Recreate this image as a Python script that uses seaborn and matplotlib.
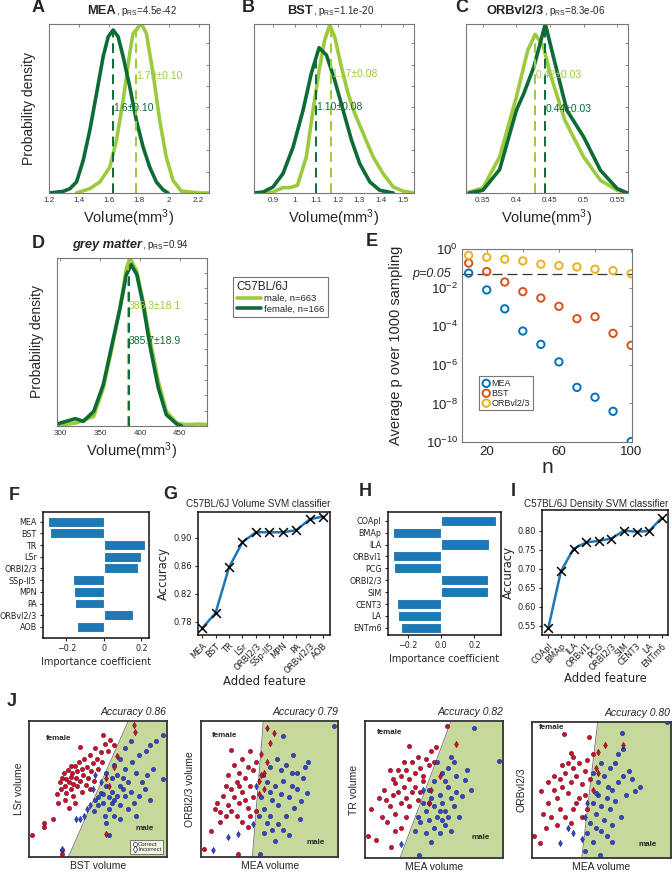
import numpy as np
import matplotlib
matplotlib.use("Agg")
import matplotlib.pyplot as plt
from matplotlib.lines import Line2D
import seaborn as sns

# ---------------- data ----------------
# A  MEA
A_male_x = [1.384, 1.473, 1.54, 1.607, 1.651, 1.696, 1.74, 1.762, 1.784, 1.807, 1.818, 1.851, 1.896, 1.94, 1.984, 2.029, 2.084, 2.207, 2.267]
A_male_y = [0, 13, 33, 78, 158, 278, 418, 478, 488, 503, 506, 478, 358, 218, 108, 38, 6, 0, 0]
A_female_x = [1.2, 1.296, 1.34, 1.384, 1.429, 1.473, 1.518, 1.562, 1.596, 1.629, 1.662, 1.696, 1.74, 1.784, 1.829, 1.873, 1.918, 1.962, 1.996]
A_female_y = [0, 5, 13, 33, 98, 188, 298, 408, 468, 488, 468, 408, 318, 218, 138, 78, 33, 10, 0]
A_means = [1.78, 1.63]
A_texts = ["1.79±0.10", "1.6±0.10"]
A_text_h = [350, 255]
A_xticks = [1.2, 1.4, 1.6, 1.8, 2.0, 2.2]
A_xticklabels = ["1.2", "1.4", "1.6", "1.8", "2", "2.2"]

# B  BST
B_male_x = [0.869, 0.9, 0.946, 0.977, 1.013, 1.054, 1.085, 1.116, 1.139, 1.162, 1.185, 1.216, 1.247, 1.278, 1.317, 1.363, 1.409, 1.456, 1.5, 1.553]
B_male_y = [0, 3, 16, 16, 23, 108, 248, 378, 458, 503, 468, 378, 298, 238, 178, 108, 58, 18, 6, 0]
B_female_x = [0.812, 0.854, 0.9, 0.946, 0.993, 1.039, 1.077, 1.113, 1.147, 1.185, 1.224, 1.263, 1.301, 1.348, 1.394, 1.456]
B_female_y = [0, 3, 18, 58, 138, 248, 358, 435, 413, 338, 248, 158, 88, 33, 8, 0]
B_means = [1.17, 1.10]
B_texts = ["1.17±0.08", "1.10±0.08"]
B_text_h = [356, 256]
B_xticks = [0.9, 1.0, 1.1, 1.2, 1.3, 1.4, 1.5]
B_xticklabels = ["0.9", "1", "1.1", "1.2", "1.3", "1.4", "1.5"]

# C  ORBvl2/3
C_male_x = [0.325, 0.35, 0.375, 0.4, 0.417, 0.428, 0.44, 0.45, 0.472, 0.5, 0.525, 0.55, 0.566]
C_male_y = [0, 15, 108, 288, 428, 475, 440, 358, 218, 108, 38, 8, 0]
C_female_x = [0.33, 0.35, 0.375, 0.4, 0.411, 0.426, 0.443, 0.455, 0.475, 0.5, 0.525, 0.55, 0.565]
C_female_y = [0, 8, 70, 248, 298, 378, 506, 408, 248, 168, 68, 13, 0]
C_means = [0.428, 0.443]
C_texts = ["0.42±0.03", "0.44±0.03"]
C_text_h = [353, 253]
C_xticks = [0.35, 0.4, 0.45, 0.5, 0.55]
C_xticklabels = ["0.35", "0.4", "0.45", "0.5", "0.55"]

# D  grey matter
D_male_x = [296, 320, 342, 354, 364, 375, 383, 387.5, 396, 404, 413, 423, 433, 446, 458, 475, 484]
D_male_y = [2, 9, 29, 114, 224, 354, 474, 504, 464, 374, 254, 134, 44, 9, 4, 6, 4]
D_female_x = [296, 319, 329, 342, 354, 364, 375, 383, 389, 396, 404, 413, 423, 433, 446, 452]
D_female_y = [6, 22, 14, 44, 124, 234, 354, 454, 484, 454, 364, 234, 114, 34, 6, 0]
D_means = [385.3, 385.7]
D_texts = ["385.3±18.1", "385.7±18.9"]
D_text_h = [359, 256]
D_xticks = [300, 350, 400, 450]
D_xticklabels = ["300", "350", "400", "450"]

legend_D_labels = ["male, n=663", "female, n=166"]

# E  average p vs n (log10 p)
E_n = [10, 20, 30, 40, 50, 60, 70, 80, 90, 100]
E_logp_MEA = [-1.25, -2.12, -3.1, -4.25, -4.94, -5.85, -7.17, -7.68, -8.41, -9.98]
E_logp_BST = [-0.73, -1.17, -1.71, -2.21, -2.54, -2.97, -3.61, -3.51, -4.37, -4.99]
E_logp_ORB = [-0.33, -0.43, -0.53, -0.62, -0.79, -0.86, -0.93, -1.05, -1.12, -1.28]
E_series = ["MEA", "BST", "ORBvl2/3"]

# F  volume importance
F_feat = ["MEA", "BST", "TR", "LSr", "ORBl2/3", "SSp-ll5", "MPN", "PA", "ORBvl2/3", "AOB"]
F_coef = [-0.30, -0.288, 0.219, 0.20, 0.18, -0.165, -0.158, -0.157, 0.153, -0.142]
# G  volume accuracy
G_acc = [0.7706, 0.7924, 0.8576, 0.8939, 0.908, 0.908, 0.908, 0.911, 0.9267, 0.9305]
# H  density importance
H_feat = ["COApl", "BMAp", "ILA", "ORBvl1", "PCG", "ORBl2/3", "SIM", "CENT3", "LA", "ENTm6"]
H_coef = [0.328, -0.29, 0.288, -0.286, -0.284, 0.284, 0.282, -0.266, -0.26, -0.242]
# I  density accuracy
I_acc = [0.544, 0.693, 0.752, 0.769, 0.773, 0.779, 0.800, 0.797, 0.799, 0.833]

# J  scatter panels (normalised 0-100 units)
J1_red_x = [2, 11, 11, 17, 24, 24, 54, 76, 77, 37, 30, 56, 22, 23, 24, 25, 26, 27, 27, 28, 29, 30, 30, 31, 32, 32, 33, 34, 35, 35, 36, 37, 38, 38, 39, 40, 41, 42, 43, 44, 45, 46, 47, 48, 49, 50, 52, 53, 55, 57, 59, 62, 20, 21, 26, 33, 29, 44, 64, 56, 62, 58]
J1_red_y = [16, 25, 22, 28, 2, 5, 90, 97, 92, 81, 67, 17, 55, 50, 58, 62, 52, 57, 47, 64, 55, 59, 50, 62, 54, 45, 67, 58, 52, 63, 70, 56, 48, 65, 60, 72, 53, 66, 58, 75, 63, 69, 56, 80, 72, 65, 77, 70, 83, 78, 86, 82, 46, 40, 42, 40, 36, 50, 74, 58, 66, 52]
J1_blue_x = [97, 97, 92, 24, 34, 37, 56, 58, 88, 85, 80, 75, 70, 66, 78, 82, 86, 90, 72, 68, 64, 60, 56, 52, 48, 50, 54, 58, 62, 66, 70, 74, 76, 80, 84, 88, 60, 64, 68, 52, 46, 44, 47, 55, 62, 66, 72, 78, 48, 56, 70, 74, 62, 40, 42, 58, 54, 50, 60, 66]
J1_blue_y = [90, 57, 85, 6, 28, 28, 25, 16, 82, 78, 75, 70, 65, 72, 62, 55, 60, 65, 55, 50, 45, 48, 52, 47, 42, 38, 40, 35, 42, 38, 45, 48, 40, 45, 50, 42, 58, 60, 58, 55, 50, 38, 34, 30, 30, 28, 35, 30, 60, 62, 80, 85, 68, 30, 35, 44, 46, 44, 40, 52]
J1_boundary = [28.4, 72.0]

J2_red_x = [2, 7, 14, 27, 22, 28, 48, 53, 50, 12, 10, 18, 16, 20, 22, 24, 26, 28, 30, 32, 34, 36, 38, 40, 42, 44, 46, 20, 24, 30, 34, 36, 26, 30, 34, 18, 38, 40, 42, 44, 46, 48, 32, 28, 22, 14, 36]
J2_red_y = [6, 19, 33, 2, 79, 62, 95, 91, 84, 40, 35, 30, 45, 38, 50, 44, 55, 40, 48, 58, 36, 52, 64, 70, 56, 76, 62, 60, 68, 72, 66, 78, 30, 26, 22, 52, 44, 34, 46, 60, 50, 70, 42, 52, 34, 26, 30]
J2_blue_x = [97, 60, 67, 78, 77, 73, 43, 20, 9, 27, 45, 48, 50, 52, 54, 56, 58, 60, 62, 64, 66, 68, 70, 72, 50, 52, 54, 48, 46, 56, 58, 62, 66, 44, 46, 60, 64, 50, 55, 70, 74, 76, 42, 38, 40]
J2_blue_y = [96, 89, 75, 70, 47, 41, 2, 15, 5, 17, 60, 55, 48, 42, 52, 38, 46, 56, 30, 44, 52, 36, 62, 28, 30, 20, 12, 25, 35, 24, 64, 68, 62, 44, 18, 20, 16, 66, 72, 50, 58, 66, 30, 24, 52]
J2_boundary = [37.4, 45.4]

J3_red_x = [2, 8, 4, 19, 32, 51, 59, 66, 15, 18, 20, 22, 24, 26, 28, 30, 32, 34, 36, 38, 40, 42, 44, 46, 48, 12, 16, 22, 26, 30, 34, 28, 24, 20, 36, 40, 14, 10, 18, 32, 38, 26, 22, 42, 30, 50, 46, 48, 54]
J3_red_y = [16, 13, 36, 8, 82, 81, 96, 83, 42, 38, 46, 55, 48, 60, 52, 64, 58, 70, 62, 74, 66, 56, 72, 68, 78, 30, 26, 32, 40, 44, 48, 70, 64, 58, 52, 48, 50, 44, 64, 38, 42, 22, 20, 60, 30, 70, 40, 50, 60]
J3_blue_x = [79, 97, 39, 26, 72, 77, 42, 44, 46, 48, 50, 52, 54, 56, 58, 60, 62, 64, 66, 68, 50, 54, 58, 62, 46, 50, 56, 60, 64, 70, 74, 52, 40, 36, 44, 48, 42, 38, 56, 60, 66, 58, 62, 54, 46]
J3_blue_y = [95, 71, 2, 10, 57, 50, 40, 34, 28, 44, 38, 30, 46, 40, 34, 52, 44, 38, 60, 30, 22, 18, 24, 20, 50, 56, 62, 66, 70, 45, 64, 70, 26, 20, 18, 12, 50, 30, 28, 30, 48, 56, 74, 34, 40]
J3_boundary = [25.3, 62.2]

J4_red_x = [2, 6, 7, 23, 41, 53, 66, 28, 12, 14, 16, 18, 20, 22, 24, 26, 28, 30, 32, 34, 36, 38, 40, 42, 20, 24, 28, 32, 18, 10, 26, 30, 22, 34, 38, 40, 44, 46, 48, 16, 30, 12, 36, 8, 44, 48]
J4_red_y = [16, 11, 49, 91, 89, 83, 83, 77, 40, 30, 50, 44, 58, 52, 62, 48, 56, 66, 60, 70, 54, 64, 72, 58, 36, 30, 26, 40, 24, 22, 70, 74, 68, 44, 46, 36, 50, 66, 62, 60, 36, 56, 30, 32, 76, 78]
J4_blue_x = [97, 65, 78, 74, 49, 38, 20, 44, 46, 48, 50, 52, 54, 56, 58, 60, 62, 64, 66, 68, 50, 54, 58, 48, 52, 56, 60, 70, 72, 46, 44, 42, 40, 36, 30, 26, 62, 66, 55, 50, 58, 46, 44, 40, 38]
J4_blue_y = [100, 92, 52, 49, 2, 5, 11, 40, 32, 46, 38, 28, 44, 36, 50, 42, 56, 30, 60, 46, 20, 16, 24, 56, 60, 66, 70, 64, 58, 22, 12, 26, 18, 14, 18, 22, 76, 80, 52, 70, 12, 48, 62, 40, 30]
J4_boundary = [36.0, 47.5]

J_acc = ["Accuracy 0.86", "Accuracy 0.79", "Accuracy 0.82", "Accuracy 0.80"]
J_xlabels = ["BST volume", "MEA volume", "MEA volume", "MEA volume"]
J_ylabels = ["LSr volume", "ORBl2/3 volume", "TR volume", "ORBvl2/3"]

# ---------------- style ----------------
sns.set_theme(style="white")
plt.rcParams["font.family"] = ["Liberation Sans", "DejaVu Sans"]
plt.rcParams["mathtext.fontset"] = "custom"
plt.rcParams["mathtext.rm"] = "Liberation Sans"
plt.rcParams["mathtext.it"] = "Liberation Sans:italic"
plt.rcParams["mathtext.bf"] = "Liberation Sans:bold"

LIGHT = "#9BCB3C"
DARK = "#0D6B36"
GRAY = "#555555"
BLUE = "#1f77b4"
RED_PT = "#C8102E"
BLUE_PT = "#3344C4"
GREEN_BG = "#C6D99A"
E_COLORS = ["#0072BD", "#D95319", "#EDB120"]

W, H = 672, 875
fig = plt.figure(figsize=(W / 100, H / 100), dpi=100)


def add_ax(l, t, r, b):
    return fig.add_axes([l / W, 1 - b / H, (r - l) / W, (b - t) / H])


def ftext(px, py, s, **kw):
    fig.text(px / W, 1 - py / H, s, **kw)


def letter(px, py, s):
    ftext(px, py, s, fontsize=13, fontweight="bold", ha="center", va="center")


def two_part_title(px, py, bold, rest, italic=False):
    ftext(px, py, bold, fontsize=9.3, fontweight="bold", style="italic" if italic else "normal",
          ha="right", va="baseline")
    ftext(px, py, rest, fontsize=7, ha="left", va="baseline")


def density_panel(ax, mx, my, fx, fy, means, texts, text_h, xlim, xticks, xticklabels, ytop, ystep):
    sns.lineplot(x=mx, y=my, sort=False, estimator=None, color=LIGHT, lw=2.6, ax=ax,
                 solid_joinstyle="round", solid_capstyle="round")
    sns.lineplot(x=fx, y=fy, sort=False, estimator=None, color=DARK, lw=2.6, ax=ax,
                 solid_joinstyle="round", solid_capstyle="round")
    hm = np.interp(means[0], mx, my)
    hf = np.interp(means[1], fx, fy)
    ax.plot([means[0], means[0]], [0, hm], color=LIGHT, lw=1.4, ls=(0, (5, 3)))
    ax.plot([means[1], means[1]], [0, hf], color=DARK, lw=1.4, ls=(0, (5, 3)))
    ax.text(means[0], text_h[0], texts[0], color=LIGHT, fontsize=7.5, ha="left", va="center")
    ax.text(means[1], text_h[1], texts[1], color=DARK, fontsize=7.5, ha="left", va="center")
    ax.set_xlim(*xlim)
    ax.set_ylim(0, ytop)
    ax.set_xticks(xticks)
    ax.set_xticklabels(xticklabels)
    ax.set_yticks(np.arange(0, ytop, ystep))
    ax.set_yticklabels([])
    ax.tick_params(direction="in", top=True, right=True, length=2.5, width=0.5,
                   colors=GRAY, labelcolor="#333333", labelsize=5.8, pad=3)
    for s in ax.spines.values():
        s.set_color("#777777")
        s.set_linewidth(0.8)
    ax.set_xlabel("Volume(mm$^3$)", fontsize=10.5, labelpad=2)
    ax.set_ylabel("")


# ---------- A ----------
axA = add_ax(49, 24, 209, 193)
density_panel(axA, A_male_x, A_male_y, A_female_x, A_female_y, A_means, A_texts, A_text_h,
              (1.2, 2.27), A_xticks, A_xticklabels, 506, 64)
axA.set_ylabel("Probability density", fontsize=10, labelpad=6)
letter(38, 8, "A")
two_part_title(115.5, 14, "MEA", ", p$_{\\mathregular{RS}}$=4.5e-42")

# ---------- B ----------
axB = add_ax(254, 24, 414, 193)
density_panel(axB, B_male_x, B_male_y, B_female_x, B_female_y, B_means, B_texts, B_text_h,
              (0.812, 1.552), B_xticks, B_xticklabels, 506, 64)
letter(248, 8, "B")
two_part_title(313, 14, "BST", ", p$_{\\mathregular{RS}}$=1.1e-20")

# ---------- C ----------
axC = add_ax(466, 24, 628, 193)
density_panel(axC, C_male_x, C_male_y, C_female_x, C_female_y, C_means, C_texts, C_text_h,
              (0.325, 0.566), C_xticks, C_xticklabels, 506, 64)
letter(462, 8, "C")
two_part_title(543.5, 14, "ORBvl2/3", ", p$_{\\mathregular{RS}}$=8.3e-06")

# ---------- D ----------
axD = add_ax(57, 258, 207, 426)
density_panel(axD, D_male_x, D_male_y, D_female_x, D_female_y, D_means, D_texts, D_text_h,
              (296, 484), D_xticks, D_xticklabels, 504, 46)
axD.set_ylabel("Probability density", fontsize=10, labelpad=6)
letter(38, 243, "D")
two_part_title(142.5, 248, "grey matter", ", p$_{\\mathregular{RS}}$=0.94", italic=True)
handles = [Line2D([], [], color=LIGHT, lw=2.6), Line2D([], [], color=DARK, lw=2.6)]
leg = fig.legend(handles, legend_D_labels, title="C57BL/6J", loc="upper left",
                 bbox_to_anchor=(233 / W, 1 - 277 / H), frameon=True, fancybox=False,
                 fontsize=6.8, title_fontsize=8.5, alignment="left", handlelength=2.6,
                 borderpad=0.4, labelspacing=0.15, handletextpad=0.3, borderaxespad=0)
leg.get_frame().set_edgecolor(GRAY)
leg.get_frame().set_linewidth(0.8)

# ---------- E ----------
axE = add_ax(462, 249, 632, 442)
for name, vals, col in zip(E_series, [E_logp_MEA, E_logp_BST, E_logp_ORB], E_COLORS):
    sns.scatterplot(x=E_n, y=10.0 ** np.array(vals), marker="o", s=28, color=col,
                    facecolor="none", edgecolor=col, linewidth=1.4, label=name, ax=axE, zorder=3)
axE.axhline(0.05, color="#333333", lw=0.9, ls=(0, (8, 4)), zorder=1)
axE.set_yscale("log")
axE.set_ylim(1e-10, 1)
axE.set_xlim(6.3, 100.5)
axE.set_yticks([1e0, 1e-2, 1e-4, 1e-6, 1e-8, 1e-10])
axE.set_yticklabels(["10$^{0}$", "10$^{-2}$", "10$^{-4}$", "10$^{-6}$", "10$^{-8}$", "10$^{-10}$"])
axE.yaxis.set_minor_locator(matplotlib.ticker.NullLocator())
axE.set_xticks([20, 40, 60, 80, 100])
axE.set_xticklabels(["20", "", "60", "", "100"])
axE.tick_params(direction="in", top=True, right=True, length=2.5, width=0.5,
                colors=GRAY, labelcolor="#222222", labelsize=9.5, pad=3)
for s in axE.spines.values():
    s.set_color("#777777")
    s.set_linewidth(0.8)
axE.set_xlabel("n", fontsize=15, labelpad=0)
axE.set_ylabel("Average p over 1000 sampling", fontsize=10.5, labelpad=16)
legE = axE.legend(loc="upper left", bbox_to_anchor=(0.1, 0.342), fontsize=6.5, frameon=True,
                  fancybox=False, handletextpad=0.1, borderpad=0.3, labelspacing=0.1,
                  handlelength=1.0, borderaxespad=0)
legE.get_frame().set_edgecolor(GRAY)
legE.get_frame().set_linewidth(0.8)
ftext(451, 274, "p=0.05", fontsize=9, style="italic", ha="right", va="center")
letter(372, 242, "E")


# ---------- F-I ----------
def bar_panel(ax, feats, coefs, xlim, ylim, xticks, xticklabels):
    sns.barplot(x=coefs, y=feats, orient="h", color=BLUE, saturation=1, width=0.85,
                edgecolor="white", linewidth=0.8, ax=ax)
    ax.set_xlim(*xlim)
    ax.set_ylim(*ylim)
    ax.set_xticks(xticks)
    ax.set_xticklabels(xticklabels)
    ax.tick_params(labelsize=5.8, length=2.5, width=0.8, pad=2, colors="#222222")
    for s in ax.spines.values():
        s.set_color("#111111")
        s.set_linewidth(1.1)
    ax.set_xlabel("Importance coefficient", fontsize=7, labelpad=3)
    ax.set_ylabel("")


def acc_panel(ax, feats, acc, xlim, ylim, yticks, yticklabels, title, title_x):
    xs = np.arange(len(feats))
    sns.lineplot(x=xs, y=acc, color=BLUE, lw=1.8, ax=ax)
    sns.scatterplot(x=xs, y=acc, marker="x", s=40, color="black", linewidth=1.1, ax=ax, zorder=3)
    ax.set_xlim(*xlim)
    ax.set_ylim(*ylim)
    ax.set_yticks(yticks)
    ax.set_yticklabels(yticklabels)
    ax.set_xticks(xs)
    ax.set_xticklabels(feats, rotation=45, ha="right", rotation_mode="anchor")
    ax.tick_params(labelsize=6, length=2.5, width=0.8, pad=2, colors="#222222")
    for s in ax.spines.values():
        s.set_color("#111111")
        s.set_linewidth(1.1)
    ax.set_xlabel("Added feature", fontsize=8.4, labelpad=0)
    ax.set_ylabel("Accuracy", fontsize=8.4, labelpad=2)
    ftext(title_x, 504, title, fontsize=7.1, ha="center", va="center")


with sns.axes_style("ticks"):
    axF = add_ax(43, 512, 149, 638)
    axG = add_ax(198, 512, 330, 635)
    axH = add_ax(388, 512, 501, 635)
    axI = add_ax(542, 510, 668, 635)

bar_panel(axF, F_feat, F_coef, (-0.325, 0.24), (9.95, -0.83), [-0.2, 0, 0.2], ["\u22120.2", "0", "0.2"])
bar_panel(axH, H_feat, H_coef, (-0.318, 0.36), (9.6, -0.73), [-0.2, 0, 0.2], ["\u22120.2", "0.0", "0.2"])
acc_panel(axG, F_feat, G_acc, (-0.3, 9.5), (0.761, 0.937), [0.78, 0.82, 0.86, 0.90],
          ["0.78", "0.82", "0.86", "0.90"], "C57BL/6J Volume SVM classifier", 258)
acc_panel(axI, H_feat, I_acc, (-0.5, 9.5), (0.526, 0.854), [0.55, 0.60, 0.65, 0.70, 0.75, 0.80],
          ["0.55", "0.60", "0.65", "0.70", "0.75", "0.80"], "C57BL/6J Density SVM classifier", 596)
letter(14, 496, "F")
letter(170, 494, "G")
letter(365, 492, "H")
letter(513, 492, "I")


# ---------- J ----------
def j_panel(ax, rx, ry, bx, by, bnd, acc, xl, yl, fem_pos, male_pos, show_legend=False):
    rx, ry, bx, by = map(np.asarray, (rx, ry, bx, by))
    ax.set_xlim(0, 100)
    ax.set_ylim(0, 100)
    ax.fill_betweenx([0, 100], bnd, [100, 100], color=GREEN_BG, lw=0, zorder=0)
    ax.plot(bnd, [0, 100], color="#6f6f6f", lw=0.6, zorder=1)
    r_ok = rx < bnd[0] + (bnd[1] - bnd[0]) * ry / 100
    b_ok = bx >= bnd[0] + (bnd[1] - bnd[0]) * by / 100
    sns.scatterplot(x=rx[r_ok], y=ry[r_ok], marker="o", s=10, color=RED_PT, edgecolor="#5a0010",
                    linewidth=0.3, ax=ax, zorder=3)
    sns.scatterplot(x=bx[b_ok], y=by[b_ok], marker="o", s=10, color=BLUE_PT, edgecolor="#101a60",
                    linewidth=0.3, ax=ax, zorder=3)
    sns.scatterplot(x=rx[~r_ok], y=ry[~r_ok], marker="d", s=11, color=RED_PT, edgecolor="#5a0010",
                    linewidth=0.3, ax=ax, zorder=3)
    sns.scatterplot(x=bx[~b_ok], y=by[~b_ok], marker="d", s=11, color=BLUE_PT, edgecolor="#101a60",
                    linewidth=0.3, ax=ax, zorder=3)
    ax.set_xticks([])
    ax.set_yticks([])
    for s in ax.spines.values():
        s.set_color("#333333")
        s.set_linewidth(1.3)
    ax.set_xlabel(xl, fontsize=7.5, labelpad=3)
    ax.set_ylabel(yl, fontsize=7.5, labelpad=4)
    ax.text(1.0, 1.03, acc, transform=ax.transAxes, ha="right", va="bottom",
            fontsize=7.5, style="italic")
    ax.text(fem_pos[0], fem_pos[1], "female", fontsize=5.8, fontweight="bold", ha="left", va="center")
    ax.text(male_pos[0], male_pos[1], "male", fontsize=5.8, fontweight="bold", ha="left", va="center")
    if show_legend:
        hs = [Line2D([], [], marker="o", ls="none", mfc="white", mec="#333333", ms=3, mew=0.5),
              Line2D([], [], marker="d", ls="none", mfc="white", mec="#333333", ms=3.5, mew=0.5)]
        lg = ax.legend(hs, ["Correct", "Incorrect"], loc="lower right", bbox_to_anchor=(0.975, 0.02),
                       fontsize=4.3, frameon=True, fancybox=False, handlelength=0.8,
                       handletextpad=0.2, borderpad=0.3, labelspacing=0.1, borderaxespad=0)
        lg.get_frame().set_edgecolor("#444444")
        lg.get_frame().set_linewidth(0.6)


axJ1 = add_ax(29.3, 721, 166.7, 857)
axJ2 = add_ax(201, 721, 338.3, 857)
axJ3 = add_ax(365, 721, 503.3, 858)
axJ4 = add_ax(531.7, 721.7, 670.7, 858)
j_panel(axJ1, J1_red_x, J1_red_y, J1_blue_x, J1_blue_y, J1_boundary, J_acc[0], J_xlabels[0], J_ylabels[0],
        (12, 87), (77, 20.6), show_legend=True)
j_panel(axJ2, J2_red_x, J2_red_y, J2_blue_x, J2_blue_y, J2_boundary, J_acc[1], J_xlabels[1], J_ylabels[1],
        (8, 89), (77, 11))
j_panel(axJ3, J3_red_x, J3_red_y, J3_blue_x, J3_blue_y, J3_boundary, J_acc[2], J_xlabels[2], J_ylabels[2],
        (8.4, 91.6), (77, 15))
j_panel(axJ4, J4_red_x, J4_red_y, J4_blue_x, J4_blue_y, J4_boundary, J_acc[3], J_xlabels[3], J_ylabels[3],
        (5.5, 96), (77, 9.6))
letter(12, 702, "J")

fig.savefig("out.png", dpi=100)
